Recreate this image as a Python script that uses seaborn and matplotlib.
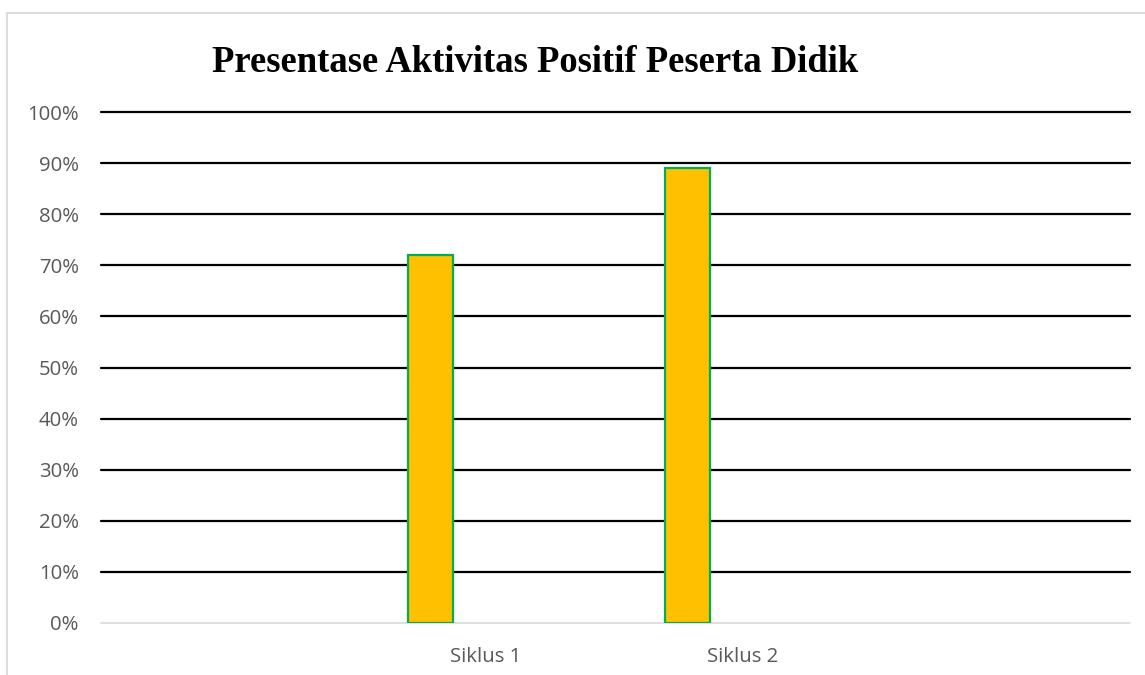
import matplotlib
matplotlib.use("Agg")
import matplotlib.pyplot as plt
import seaborn as sns
import numpy as np
import pandas as pd
from matplotlib.patches import Rectangle
from matplotlib.ticker import FuncFormatter

categories = ["Siklus 1", "Siklus 2"]
values = [72, 89]
title = "Presentase Aktivitas Positif Peserta Didik"

sns.set_theme(style="white")
plt.rcParams['font.family'] = ['Open Sans', 'DejaVu Sans']

W, H = 1145, 675
fig = plt.figure(figsize=(W / 100, H / 100), dpi=100)
ax = fig.add_axes([101 / W, 1 - 623 / H, (1130 - 101) / W, (623 - 112) / H])

df = pd.DataFrame({"cat": categories, "val": values})
sns.barplot(data=df, x="cat", y="val", ax=ax, width=0.175,
            color="#FFC000", edgecolor="#00B050", linewidth=1.6,
            saturation=1, zorder=3)

ax.set_ylim(0, 100)
ax.set_xlim(-1.278, 2.718)
ax.set_yticks(np.arange(0, 101, 10))
ax.yaxis.set_major_formatter(FuncFormatter(lambda v, p: f"{int(round(v))}%"))
ax.set_xticks(np.arange(len(categories)) + 0.215, categories)
ax.set_xlabel("")
ax.set_ylabel("")

ax.grid(axis="y", color="black", linewidth=1.6)
ax.set_axisbelow(True)
gl = ax.get_ygridlines()
for g in gl:
    g.set_clip_on(False)
gl[0].set_color("#D9D9D9")
gl[0].set_linewidth(1.2)
for s in ax.spines.values():
    s.set_visible(False)

ax.tick_params(axis="y", length=0, pad=16, labelsize=14.7, labelcolor="#595959")
ax.tick_params(axis="x", length=0, pad=17, labelsize=14.7, labelcolor="#595959")

fig.text(535 / W, 1 - 62 / H, title, ha="center", va="center",
         fontsize=26.4, fontweight="bold",
         family=["Liberation Serif", "DejaVu Serif"], color="black")

fig.add_artist(Rectangle((7 / W, -0.1), 2, 1 - 13 / H + 0.1,
                         transform=fig.transFigure, fill=False,
                         edgecolor="#D9D9D9", linewidth=1.3))

fig.savefig("out.png", dpi=100)
